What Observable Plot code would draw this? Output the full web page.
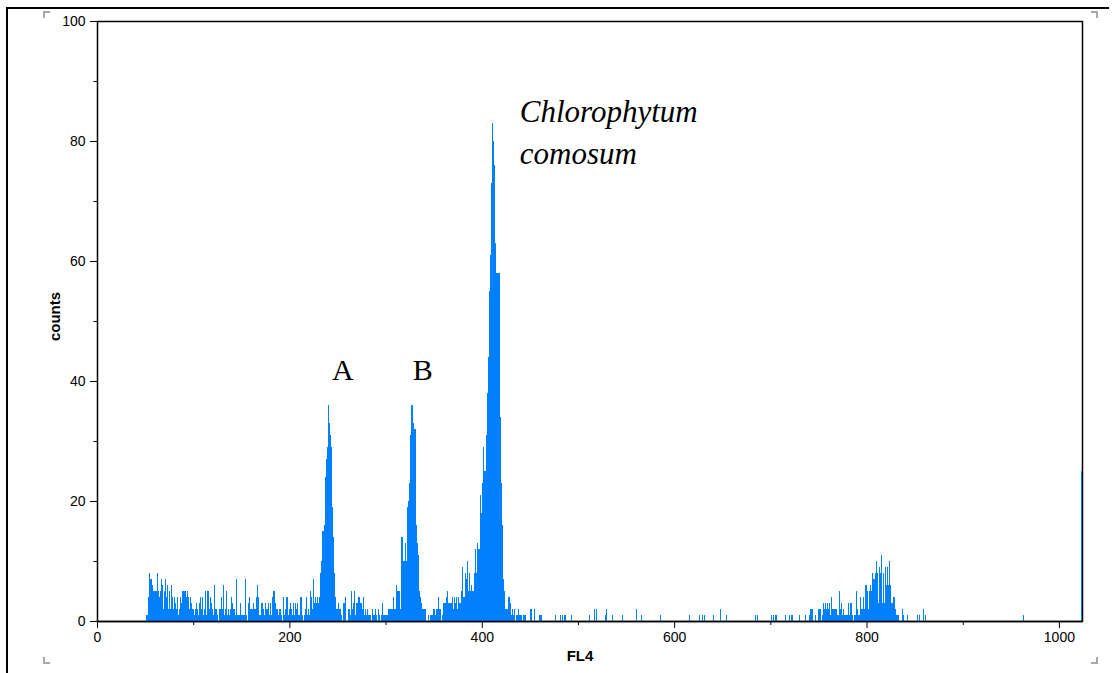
<!DOCTYPE html>
<html>
<head>
<meta charset="utf-8">
<script src="https://cdn.jsdelivr.net/npm/d3@7"></script>
<script src="https://cdn.jsdelivr.net/npm/@observablehq/plot@0.6"></script>
<style>
  html, body { margin: 0; padding: 0; background: #fff; }
  #wrap { position: relative; width: 1114px; height: 673px; overflow: hidden; background: #fff; }
  #chart { position: absolute; left: 0; top: 0; }
  .border { position: absolute; background: #000; }
  .crop { position: absolute; width: 5px; height: 5px; border: 0 solid #a8a8a8; }
</style>
</head>
<body>
<div id="wrap">
  <div id="chart"></div>
  <div class="border" style="left:6px;top:7px;width:2px;height:666px"></div>
  <div class="border" style="left:6px;top:7px;width:1103px;height:2px"></div>
  <div class="crop" style="left:43px;top:11px;border-top-width:2px;border-left-width:2px"></div>
  <div class="crop" style="left:1091px;top:11px;border-top-width:2px;border-right-width:2px"></div>
  <div class="crop" style="left:43px;top:657px;border-bottom-width:2px;border-left-width:2px"></div>
  <div class="crop" style="left:1091px;top:657px;border-bottom-width:2px;border-right-width:2px"></div>
</div>
<script>
// ---- data: FL4 channel histogram (counts per channel) ----
const lowStart = 51; // channels 51..231
const lowCounts = [
  1,1,4,8,7,7,6,5,5,5, 5,8,5,4,5,2,7,6,2,5, 7,4,6,2,5,2,6,4,2,4, 3,2,4,1,2,4,3,5,5,5,
  5,3,4,5,4,2,4,3,2,2, 1,2,3,2,1,3,4,2,4,1, 2,5,1,5,5,2,4,2,3,2, 1,6,2,2,1,0,2,2,4,2,
  6,1,2,5,1,2,1,
  2,4,3,2,2,1,7,3,1,1, 1,3,1,1,1,1,7,1,0,3, 4,2,2,2,3,2,2,4,6,4, 1,1,1,3,2,2,1,3,2,2,
  3,1,3,1,4,5,5,3,2,2, 1,2,2,1,0,4,1,2,2,4, 2,1,2,3,2,1,3,1,3,2, 3,1,1,4,4,1,0,1,2,4,
  1,2,
  1,5,4,1,2,7,3,4,3,4,3,4
];
const peaksStart = 232; // channels 232..445 (peaks A, B and Chlorophytum comosum)
const peaksCounts = [
  8,10,15,15,16,24,27,29,36,33,31,29,19,14,8,4,
  2,2,2,3,2,2,1,0,3,3, 4,0,0,2,2,1,5,2,3,5, 1,3,3,4,4,3,3,2,1,4, 1,2,1,2,1,1,1,0,2,1,
  1,2,1,0,2,1,0,1,3,1, 1,1,1,1,1,2,2,2,
  2,2,4,2,2, 6,5,5,5,2, 14,14,10,10,13, 10,19,20,23,31, 36,36,33,28,32, 32,16,13,11,5,
  4,3,2,2,2, 2,0,0,1,0, 1,1,1,2,2, 1,2,2,4,2, 0,2,0,1,3, 3,3,4,5,3,3,
  3,3,4,2,4,3,4,2,4,3, 3,5,9,3,4,4,8,7,10,5, 8,5,6,5,5,8,12,8,13,12,
  12,21,18,23,29,25,25,31,38,38, 44,55,61,73,83,80,76,63,58,58, 58,58,34,23,16,7,5,2,2,2,
  4,4,3,1,2,1,2,0,0,1, 1,2,1,1,1,0,1,1,1
];
const sparseChannels = [450,451,454,460,462,476,481,483,485,487,493,511,517,519,528,529,535,546,560,566,
  585,615,626,629,631,640,648,654,684,686,701,703,705,706,715,719,721,723,730,736];
const sparseCounts = [2,2,2,1,1,1,1,1,1,1,1,1,2,2,1,2,1,1,2,1,
  1,1,1,1,1,1,2,1,1,1,1,1,1,1,1,1,1,1,1,1];
const highStart = 740; // channels 740..862
const highCounts = [
  1,2,2,2,0,0,1,0,0,0,2,2,2,0,1,
  3,2,3,2,3,2,3,1,4,2, 2,2,2,2,1,1,5,2,3,1, 1,2,1,1,1,1,3,1,3,3, 1,0,1,1,5,2,1,1,4,2,
  2,4,2,6,6,5,2,2,5,6, 5,8,7,7,8,10,8,3,9,8, 11,3,8,3,9,6,9,6,10,6, 3,3,2,4,4,2,1,1,1,0,
  0,0,2,1,0,0,0,1,0,0, 0,0,0,0,0,0,0,1,0,0, 1,0,0,0,2,0,1,0
];
const edgeChannels = [963, 1023];
const edgeCounts = [1, 25];

const xMajorTicks = [0, 200, 400, 600, 800, 1000];
const xMinorTicks = [100, 300, 500, 700, 900];
const yMajorTicks = [0, 20, 40, 60, 80, 100];
const yMinorTicks = [10, 30, 50, 70, 90];

const peakLabels = ["A", "B"];
const peakLabelChannels = [255, 338];
const peakLabelCounts = [40.2, 40.2];
const speciesLines = ["Chlorophytum", "comosum"];
const speciesChannels = [439, 439];
const speciesCounts = [83.2, 76.2];

// ---- build rows ----
const rows = [];
function addRun(start, counts) {
  counts.forEach((n, i) => { if (n > 0) rows.push({channel: start + i, count: n}); });
}
addRun(lowStart, lowCounts);
addRun(peaksStart, peaksCounts);
sparseChannels.forEach((c, i) => rows.push({channel: c, count: sparseCounts[i]}));
addRun(highStart, highCounts);
edgeChannels.forEach((c, i) => rows.push({channel: c, count: edgeCounts[i]}));

const peakRows = peakLabels.map((t, i) => ({t, x: peakLabelChannels[i], y: peakLabelCounts[i]}));
const speciesRows = speciesLines.map((t, i) => ({t, x: speciesChannels[i], y: speciesCounts[i]}));

const chart = Plot.plot({
  width: 1114,
  height: 673,
  marginLeft: 97,
  marginRight: 32,
  marginTop: 21,
  marginBottom: 52,
  style: {fontFamily: "'Liberation Sans', Arial, sans-serif", fontSize: "14px", background: "transparent", color: "#000"},
  x: {domain: [0, 1024]},
  y: {domain: [0, 100]},
  marks: [
    Plot.frame({stroke: "#000", strokeWidth: 1.5}),
    Plot.rect(rows, {x1: "channel", x2: d => d.channel + 1, y1: 0, y2: "count", fill: "#0080ff", insetRight: -0.06, shapeRendering: "crispEdges"}),
    Plot.axisY({ticks: yMajorTicks, tickSize: 7, tickPadding: 5, label: null, fontSize: 14, tickFormat: d => String(d)}),
    Plot.axisY({ticks: yMinorTicks, tickSize: 3.5, text: null, label: null}),
    Plot.axisX({ticks: xMajorTicks, tickSize: 7, tickPadding: 4, label: null, fontSize: 14, tickFormat: d => String(d)}),
    Plot.axisX({ticks: xMinorTicks, tickSize: 4, text: null, label: null}),
    Plot.ruleY([0], {stroke: "#000", strokeWidth: 1.5}),
    Plot.text(["FL4"], {text: d => d, frameAnchor: "bottom", textAnchor: "middle", lineAnchor: "bottom", dx: -10, dy: 39, fontWeight: "bold", fontSize: 15}),
    Plot.text(["counts"], {text: d => d, frameAnchor: "left", textAnchor: "middle", lineAnchor: "middle", dx: -42, dy: -5, rotate: -90, fontWeight: "bold", fontSize: 15}),
    Plot.text(peakRows, {x: "x", y: "y", text: "t", lineAnchor: "bottom", textAnchor: "middle", fontFamily: "'Liberation Serif', 'Times New Roman', serif", fontSize: 30}),
    Plot.text(speciesRows, {x: "x", y: "y", text: "t", lineAnchor: "bottom", textAnchor: "start", fontFamily: "'Liberation Serif', 'Times New Roman', serif", fontStyle: "italic", fontSize: 31})
  ]
});
document.getElementById("chart").appendChild(chart);
</script>
</body>
</html>
